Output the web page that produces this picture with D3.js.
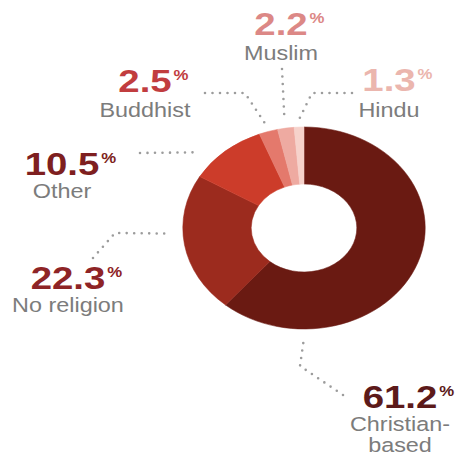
<!DOCTYPE html>
<html>
<head>
<meta charset="utf-8">
<script src="https://cdn.jsdelivr.net/npm/d3@7"></script>
<style>
  html, body { margin: 0; padding: 0; background: #ffffff; }
  svg { display: block; }
</style>
</head>
<body>
<svg id="chart" width="465" height="458"></svg>
<script>
// Religious affiliation shares (%), drawn clockwise from 12 o'clock
const categories = ["Christian-based", "No religion", "Other", "Buddhist", "Muslim", "Hindu"];
const values = [61.2, 22.3, 10.5, 2.5, 2.2, 1.3];
const labelLines = [["Christian-", "based"], ["No religion"], ["Other"], ["Buddhist"], ["Muslim"], ["Hindu"]];
const sliceColors = ["#6a1a12", "#9c2b1e", "#cc3c2a", "#e4796c", "#eeaaa1", "#f6d2cb"];
const numberColors = ["#5c1a1a", "#8e2426", "#7e1f20", "#c13d3f", "#dc8886", "#ebb6ae"];

// Layout
const W = 465, H = 458;
const sx = 1.2;                 // horizontal stretch of the whole graphic
const cx = 304, cy = 228;       // donut centre (px)
const outerR = 101, innerR = 44;
const labelColor = "#7c7c7c";
const leaderColor = "#9c9c9c";

// label placement: centre x, number baseline, text-line baselines (px)
const labelPos = [
  { x: 400, nb: 408, lines: [431, 452] },
  { x: 68,  nb: 289, lines: [312] },
  { x: 62,  nb: 175, lines: [198] },
  { x: 145, nb: 92,  lines: [117] },
  { x: 281, nb: 35,  lines: [60] },
  { x: 389, nb: 91,  lines: [117] }
];
// leader lines: fixed points near the label, then a point just outside the ring
const leaders = [
  { pts: [[343, 395], [300, 366]], at: 0.5,    r: 110 },
  { pts: [[93, 258], [115, 233]],  at: 0.742,  r: 111 },
  { pts: [[140, 153]],             at: 0.862,  r: 117 },
  { pts: [[205, 93], [245, 93]],   at: 0.9525, r: 108 },
  { pts: [[282, 69]],              at: 0.976,  r: 108 },
  { pts: [[352, 93], [312, 93]],   at: 0.9935, r: 108 }
];

const svg = d3.select("#chart");

const pie = d3.pie().sort(null).value(d => d)
  .startAngle(0).endAngle(2 * Math.PI);
const arcs = pie(values);
const arc = d3.arc().innerRadius(innerR).outerRadius(outerR);

// donut
const donut = svg.append("g")
  .attr("transform", `translate(${cx},${cy}) scale(${sx},1)`);
donut.selectAll("path")
  .data(arcs)
  .join("path")
  .attr("d", arc)
  .attr("fill", (d, i) => sliceColors[i])
  .attr("stroke", (d, i) => sliceColors[i])
  .attr("stroke-width", 0.5);

// dotted leader lines
const angleAt = t => t * 2 * Math.PI;
const line = d3.line();
svg.append("g").selectAll("path")
  .data(leaders)
  .join("path")
  .attr("d", d => {
    const a = angleAt(d.at);
    const end = [cx + Math.sin(a) * d.r * sx, cy - Math.cos(a) * d.r];
    return line(d.pts.concat([end]));
  })
  .attr("fill", "none")
  .attr("stroke", leaderColor)
  .attr("stroke-width", 2.6)
  .attr("stroke-linecap", "round")
  .attr("stroke-dasharray", "0 7.5");

// labels (stretched horizontally like the donut)
const labels = svg.append("g")
  .attr("transform", `scale(${sx},1)`)
  .style("font-family", "'Liberation Sans', Arial, sans-serif");

categories.forEach((c, i) => {
  const p = labelPos[i];
  const g = labels.append("g");
  const num = g.append("text")
    .attr("x", p.x / sx)
    .attr("y", p.nb)
    .attr("text-anchor", "middle")
    .attr("font-size", 32)
    .attr("font-weight", 700)
    .attr("fill", numberColors[i])
    .text(d3.format(".1f")(values[i]));
  const w = num.node().getComputedTextLength();
  g.append("text")
    .attr("x", p.x / sx + w / 2 + 1.5)
    .attr("y", p.nb - 12)
    .attr("font-size", 14)
    .attr("font-weight", 700)
    .attr("fill", numberColors[i])
    .text("%");
  labelLines[i].forEach((t, k) => {
    g.append("text")
      .attr("x", p.x / sx)
      .attr("y", p.lines[k])
      .attr("text-anchor", "middle")
      .attr("font-size", 19.5)
      .attr("fill", labelColor)
      .text(t);
  });
});
</script>
</body>
</html>
